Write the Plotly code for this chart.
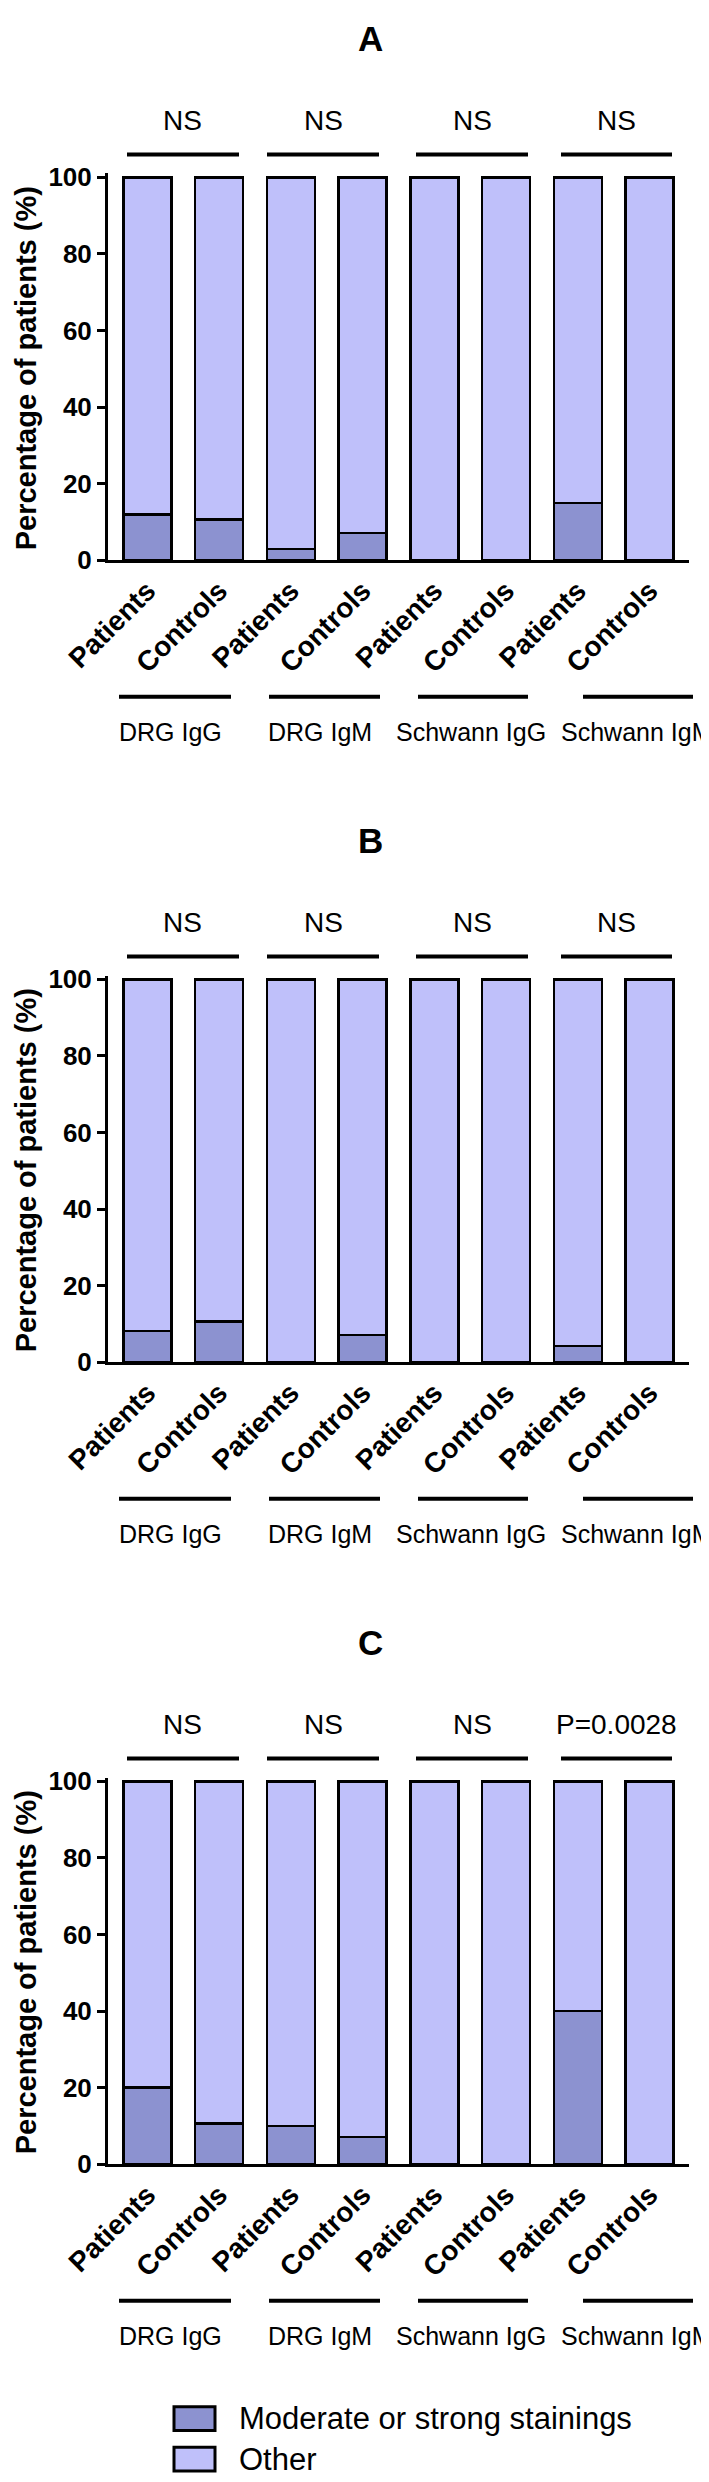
import plotly.graph_objects as go
from plotly.subplots import make_subplots

# data (percent of subjects)
groups = ["DRG IgG", "DRG IgM", "Schwann IgG", "Schwann IgM"]
subjects = ["Patients", "Controls"]
panels = ["A", "B", "C"]

moderate_a = [12.0, 10.7, 2.9, 7.1, 0, 0, 14.9, 0]
other_a = [88.0, 89.3, 97.1, 92.9, 100, 100, 85.1, 100]
moderate_b = [8.2, 10.7, 0, 7.1, 0, 0, 4.2, 0]
other_b = [91.8, 89.3, 100, 92.9, 100, 100, 95.8, 100]
moderate_c = [20.0, 10.7, 10.0, 7.1, 0, 0, 40.0, 0]
other_c = [80.0, 89.3, 90.0, 92.9, 100, 100, 60.0, 100]

stats_a = ["NS", "NS", "NS", "NS"]
stats_b = ["NS", "NS", "NS", "NS"]
stats_c = ["NS", "NS", "NS", "P=0.0028"]

moderate_all = [moderate_a, moderate_b, moderate_c]
other_all = [other_a, other_b, other_c]
stats_all = [stats_a, stats_b, stats_c]

col_moderate = "#8c92d0"
col_other = "#bfc0fa"
FONT = "Liberation Sans, Arial, Helvetica, sans-serif"

W, H = 709, 2482
L, R = 100, 681          # plot area left / right in px
PW = R - L
OFF = 810.5              # vertical distance between panels (px)
Y0 = 547                 # pixel row of y=0 in panel A
PXU = 3.87               # px per percent
YMAX = 101


def fx(x):
    return (x - L) / PW


def fy(y):
    return 1 - y / H


fig = make_subplots(rows=3, cols=1)

xpos = list(range(len(groups) * len(subjects)))
ticktext = subjects * len(groups)

for k in range(3):
    row = k + 1
    fig.add_trace(go.Bar(
        x=xpos, y=moderate_all[k], width=0.67,
        marker=dict(color=col_moderate, line=dict(color="black", width=2.5)),
        showlegend=False,
    ), row=row, col=1)
    fig.add_trace(go.Bar(
        x=xpos, y=other_all[k], width=0.67,
        marker=dict(color=col_other, line=dict(color="black", width=2.5)),
        showlegend=False,
    ), row=row, col=1)

    off = k * OFF
    bot = Y0 + off
    top = bot - PXU * YMAX
    fig.update_yaxes(
        domain=[fy(bot), fy(top)], range=[0, YMAX],
        tickvals=[0, 20, 40, 60, 80, 100],
        ticks="outside", ticklen=8, tickwidth=3, tickcolor="black",
        showline=True, linewidth=3, linecolor="black",
        showgrid=False, zeroline=False,
        tickfont=dict(family=FONT, size=26, color="black", weight="bold"),
        row=row, col=1,
    )
    fig.update_xaxes(
        range=[-0.55, 7.55], tickvals=xpos, ticktext=ticktext,
        tickangle=-45, ticks="",
        showline=True, linewidth=3, linecolor="black",
        showgrid=False, zeroline=False,
        tickfont=dict(family=FONT, size=28, color="black", weight="bold"),
        row=row, col=1,
    )

    # panel letter
    fig.add_annotation(
        x=fx(362), y=fy(20 + off), xref="paper", yref="paper",
        text=panels[k], showarrow=False, xanchor="center", yanchor="middle",
        font=dict(family=FONT, size=35, color="black", weight="bold"),
    )
    # y title
    fig.add_annotation(
        x=fx(18), y=fy(353 + off), xref="paper", yref="paper",
        text="Percentage of patients (%)", textangle=-90, showarrow=False,
        xanchor="center", yanchor="middle",
        font=dict(family=FONT, size=29, color="black", weight="bold"),
    )

    # significance brackets
    br = [(119, 231), (259, 371), (408, 520), (553, 664)]
    txt_x = [174, 315, 464, 608]
    for (a, b), tx, s in zip(br, txt_x, stats_all[k]):
        fig.add_shape(type="line", xref="paper", yref="paper",
                      x0=fx(a), x1=fx(b), y0=fy(137 + off), y1=fy(137 + off),
                      line=dict(color="black", width=4))
        fig.add_annotation(
            x=fx(tx), y=fy(103 + off), xref="paper", yref="paper",
            text=s, showarrow=False, xanchor="center", yanchor="middle",
            font=dict(family=FONT, size=28, color="black"),
        )

    # group lines and labels below the axis
    gl = [(111, 223), (261, 372), (410, 520), (575, 685)]
    gx = [162, 312, 463, 628]
    for (a, b), tx, g in zip(gl, gx, groups):
        fig.add_shape(type="line", xref="paper", yref="paper",
                      x0=fx(a), x1=fx(b), y0=fy(685 + off), y1=fy(685 + off),
                      line=dict(color="black", width=4))
        fig.add_annotation(
            x=fx(tx), y=fy(721 + off), xref="paper", yref="paper",
            text=g, showarrow=False, xanchor="center", yanchor="middle",
            font=dict(family=FONT, size=25, color="black"),
        )

# legend drawn by hand at the bottom
legend_items = [("Moderate or strong stainings", col_moderate, 2425),
                ("Other", col_other, 2466)]
for label, col, yc in legend_items:
    fig.add_shape(type="rect", xref="paper", yref="paper",
                  x0=fx(166), x1=fx(207), y0=fy(yc - 12), y1=fy(yc + 12),
                  fillcolor=col, line=dict(color="black", width=3))
    fig.add_annotation(
        x=fx(229), y=fy(yc), xref="paper", yref="paper",
        text=label, showarrow=False, xanchor="left", yanchor="middle",
        font=dict(family=FONT, size=31, color="black"),
    )

fig.update_layout(
    width=W, height=H,
    margin=dict(l=L, r=W - R, t=0, b=0),
    barmode="stack", bargap=0.33,
    plot_bgcolor="white", paper_bgcolor="white",
    showlegend=False,
    font=dict(family=FONT, color="black"),
)

fig.write_html("out.html")
